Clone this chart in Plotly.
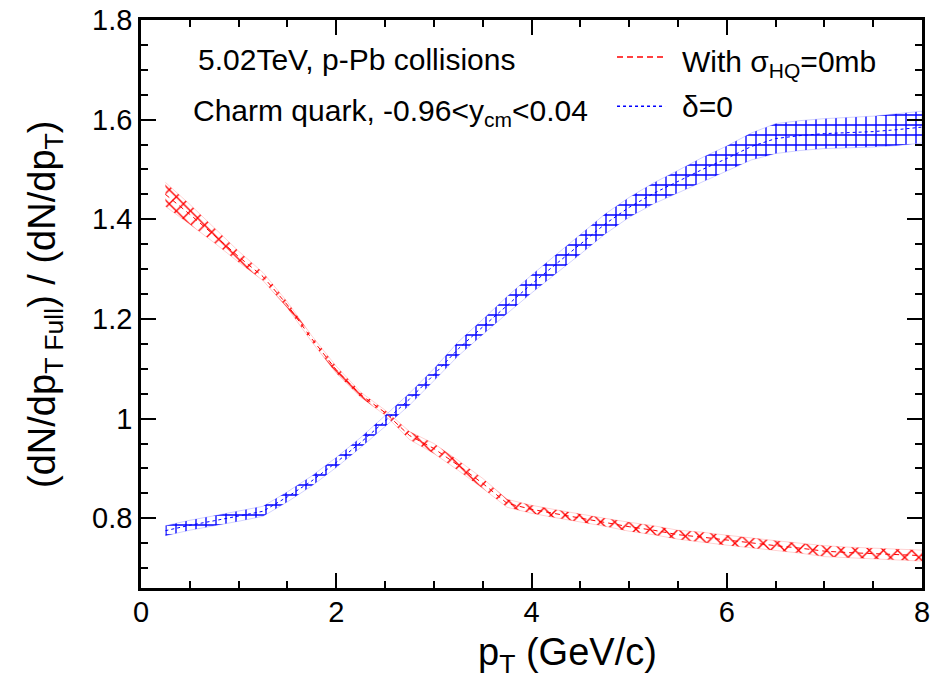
import plotly.graph_objects as go

# ---------------- data ----------------
pt = [0.25, 0.5, 0.75, 1.0, 1.25, 1.5, 1.75, 2.0, 2.25, 2.5, 2.75, 3.0, 3.25, 3.5, 3.75, 4.0,
      4.25, 4.5, 4.75, 5.0, 5.25, 5.5, 5.75, 6.0, 6.25, 6.5, 6.75, 7.0, 7.25, 7.5, 7.75, 8.0]

# With sigma_HQ = 0 mb (red, cross hatch)
red_val = [1.450, 1.410, 1.368, 1.325, 1.285, 1.228, 1.160, 1.098, 1.048, 1.012, 0.966, 0.940,
           0.906, 0.870, 0.830, 0.818, 0.809, 0.800, 0.792, 0.783, 0.776, 0.767, 0.762, 0.756,
           0.750, 0.745, 0.740, 0.734, 0.731, 0.729, 0.727, 0.725]
red_err = [0.024, 0.020, 0.015, 0.011, 0.008, 0.006, 0.006, 0.007, 0.005, 0.005, 0.008, 0.010,
           0.010, 0.010, 0.008, 0.008, 0.008, 0.008, 0.008, 0.009, 0.009, 0.009, 0.010, 0.010,
           0.010, 0.010, 0.010, 0.011, 0.011, 0.011, 0.011, 0.011]

# delta = 0 (blue, grid hatch)
blue_val = [0.775, 0.786, 0.795, 0.804, 0.814, 0.843, 0.875, 0.912, 0.952, 0.995, 1.039, 1.088,
            1.140, 1.184, 1.228, 1.270, 1.310, 1.350, 1.390, 1.424, 1.452, 1.476, 1.500, 1.522,
            1.546, 1.562, 1.568, 1.572, 1.574, 1.576, 1.580, 1.585]
blue_err = [0.010, 0.010, 0.010, 0.010, 0.010, 0.010, 0.010, 0.010, 0.010, 0.011, 0.012, 0.012,
            0.014, 0.015, 0.017, 0.018, 0.019, 0.020, 0.020, 0.020, 0.021, 0.022, 0.024, 0.025,
            0.027, 0.030, 0.030, 0.030, 0.031, 0.031, 0.032, 0.032]

x_ticks = [0, 2, 4, 6, 8]
y_ticks = [0.8, 1.0, 1.2, 1.4, 1.6, 1.8]
y_tick_text = ["0.8", "1", "1.2", "1.4", "1.6", "1.8"]

legend_labels = ["With σ<sub>HQ</sub>=0mb", "δ=0"]

FONT = "Liberation Sans, Arial, Helvetica, sans-serif"


def band(x, v, e):
    up = [a + b for a, b in zip(v, e)]
    lo = [a - b for a, b in zip(v, e)]
    return list(x) + list(x)[::-1], up + lo[::-1]


fig = go.Figure()

bx, by = band(pt, red_val, red_err)
fig.add_trace(go.Scatter(x=bx, y=by, fill="toself", mode="lines",
                         line=dict(color="rgba(255,0,0,0.3)", width=0.6),
                         fillcolor="rgba(0,0,0,0)",
                         fillpattern=dict(shape="x", fgcolor="red", bgcolor="rgba(0,0,0,0)",
                                          fgopacity=1, size=10, solidity=0.25),
                         showlegend=False, hoverinfo="skip"))
bx, by = band(pt, blue_val, blue_err)
fig.add_trace(go.Scatter(x=bx, y=by, fill="toself", mode="lines",
                         line=dict(color="rgba(0,0,255,0.3)", width=0.6),
                         fillcolor="rgba(0,0,0,0)",
                         fillpattern=dict(shape="+", fgcolor="blue", bgcolor="rgba(0,0,0,0)",
                                          fgopacity=1, size=10, solidity=0.25),
                         showlegend=False, hoverinfo="skip"))

fig.add_trace(go.Scatter(x=pt, y=red_val, mode="lines",
                         line=dict(color="red", width=1, dash="5px,4px"),
                         name=legend_labels[0], showlegend=False))
fig.add_trace(go.Scatter(x=pt, y=blue_val, mode="lines",
                         line=dict(color="blue", width=1, dash="dot"),
                         name=legend_labels[1], showlegend=False))

axis_common = dict(showgrid=False, zeroline=False, showline=True, linecolor="black",
                   linewidth=2.5, mirror="ticks", ticks="inside", ticklen=15, tickwidth=2,
                   tickcolor="black", automargin=False,
                   tickfont=dict(family=FONT, size=29, color="black"))

fig.update_xaxes(range=[0, 8], tickvals=x_ticks, ticktext=[str(t) for t in x_ticks],
                 ticklabelstandoff=-4,
                 minor=dict(dtick=0.5, tick0=0, ticks="inside", ticklen=7, tickwidth=2,
                            tickcolor="black"),
                 **axis_common)
fig.update_yaxes(range=[0.66, 1.8], tickvals=y_ticks, ticktext=y_tick_text,
                 minor=dict(dtick=0.05, tick0=0.8, ticks="inside", ticklen=7, tickwidth=2,
                            tickcolor="black"),
                 **axis_common)

# text labels
fig.add_annotation(text="5.02TeV, p-Pb collisions", xref="paper", yref="paper",
                   x=0.0705, y=0.93, xanchor="left", yanchor="middle", showarrow=False,
                   font=dict(family=FONT, size=30, color="black"))
fig.add_annotation(text="Charm quark, -0.96<y<sub>cm</sub><0.04", xref="paper", yref="paper",
                   x=0.064, y=0.838, xanchor="left", yanchor="middle", showarrow=False,
                   font=dict(family=FONT, size=30, color="black"))

# legend (drawn by hand to match the ROOT layout)
leg_x0, leg_x1, leg_tx = 0.6095, 0.671, 0.690
leg_y = [0.935, 0.848]
fig.add_shape(type="line", xref="paper", yref="paper", x0=leg_x0, x1=leg_x1,
              y0=leg_y[0], y1=leg_y[0], line=dict(color="red", width=1.5, dash="6px,4px"))
fig.add_shape(type="line", xref="paper", yref="paper", x0=leg_x0, x1=leg_x1,
              y0=leg_y[1], y1=leg_y[1], line=dict(color="blue", width=1.5, dash="dot"))
fig.add_annotation(text=legend_labels[0], xref="paper", yref="paper", x=leg_tx, y=leg_y[0] - 0.012,
                   xanchor="left", yanchor="middle", showarrow=False,
                   font=dict(family=FONT, size=30, color="black"))
fig.add_annotation(text=legend_labels[1], xref="paper", yref="paper", x=leg_tx, y=leg_y[1],
                   xanchor="left", yanchor="middle", showarrow=False,
                   font=dict(family=FONT, size=30, color="black"))

# axis titles
fig.add_annotation(text="p<sub>T</sub> (GeV/c)", xref="paper", yref="paper",
                   x=0.546, y=-0.118, xanchor="center", yanchor="middle", showarrow=False,
                   font=dict(family=FONT, size=38, color="black"))
fig.add_annotation(text="(dN/dp<sub>T Full</sub>) / (dN/dp<sub>T</sub>)", xref="paper",
                   yref="paper", x=-0.123, y=0.5, xanchor="center", yanchor="middle",
                   textangle=-90, showarrow=False,
                   font=dict(family=FONT, size=38, color="black"))

fig.update_layout(
    width=938, height=679,
    margin=dict(l=141, r=16, t=20, b=91, autoexpand=False),
    plot_bgcolor="white", paper_bgcolor="white",
    showlegend=False,
)

fig.write_html("out.html")
